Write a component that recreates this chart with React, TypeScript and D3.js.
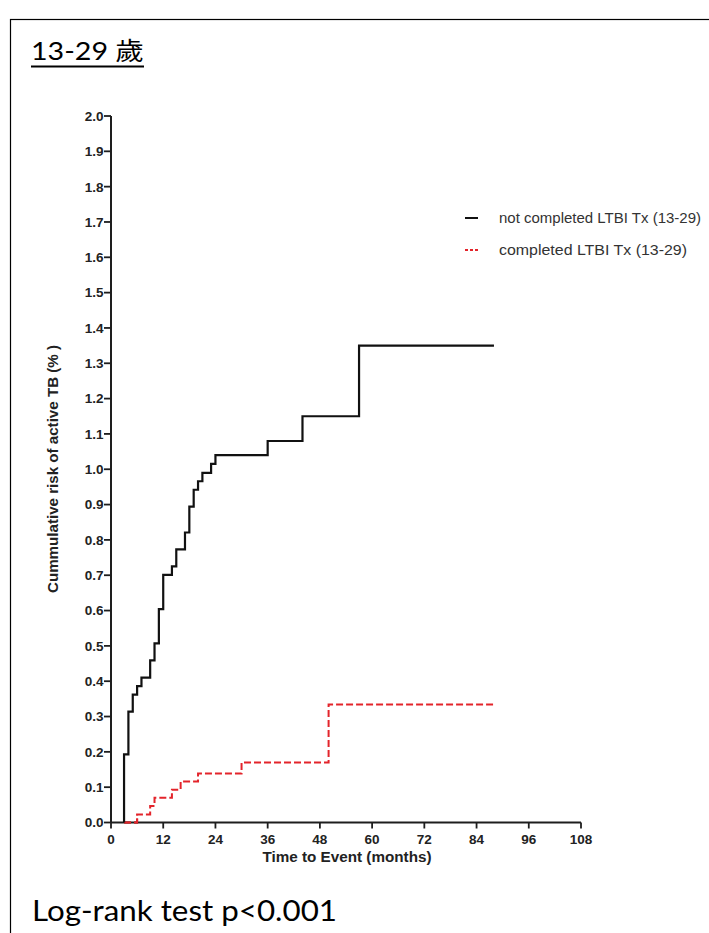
import React from "react";
import * as d3 from "d3";

const titleText = "13-29 歲";
const footerText = "Log-rank test p<0.001";
const yAxisLabel = "Cummulative risk of active TB (% )";
const xAxisLabel = "Time to Event (months)";

const seriesNames = ["not completed LTBI Tx (13-29)", "completed LTBI Tx (13-29)"];

// not completed: event times (months) and cumulative risk (%)
const notCompletedTimes = [3, 3, 4, 5, 6, 7, 9, 10, 11, 12, 14, 15, 17, 18, 19, 20, 21, 23, 24, 36, 44, 57, 88];
const notCompletedRisk = [0, 0.193, 0.314, 0.362, 0.386, 0.41, 0.459, 0.507, 0.604, 0.701, 0.725, 0.773, 0.821, 0.894, 0.942, 0.966, 0.99, 1.015, 1.04, 1.08, 1.15, 1.35, 1.35];

// completed
const completedTimes = [3, 6, 9, 10, 14, 16, 20, 30, 50, 88];
const completedRisk = [0, 0.023, 0.047, 0.07, 0.093, 0.116, 0.139, 0.17, 0.334, 0.334];

const xTicks = [0, 12, 24, 36, 48, 60, 72, 84, 96, 108];
const yTicks = d3.range(0, 21).map((i) => i / 10);

export default function App() {
  const x = d3.scaleLinear().domain([0, 108]).range([111, 581]);
  const y = d3.scaleLinear().domain([0, 2]).range([822.5, 116]);

  const line = d3
    .line<[number, number]>()
    .x((d) => x(d[0]))
    .y((d) => y(d[1]))
    .curve(d3.curveStepAfter);

  const blackPts: [number, number][] = notCompletedTimes.map((t, i) => [t, notCompletedRisk[i]]);
  const redPts: [number, number][] = completedTimes.map((t, i) => [t, completedRisk[i]]);

  const axisColor = "#1e1e1e";
  const red = "#e3242b";
  const tickFont = "'Liberation Sans', Arial, sans-serif";

  return (
    <svg
      width={709}
      height={933}
      style={{ position: "absolute", left: 0, top: 0, background: "#fff" }}
    >
      <rect x={0} y={0} width={709} height={933} fill="#fff" />
      {/* frame */}
      <rect x={10.5} y={19.5} width={720} height={940} fill="none" stroke="#000" strokeWidth={1.2} />

      {/* title */}
      <text
        x={31}
        y={59.5}
        fontFamily="Lato, 'Noto Sans CJK TC', sans-serif"
        fontSize={25}
        fill="#000"
        textLength={113}
        lengthAdjust="spacingAndGlyphs"
      >
        {titleText}
      </text>
      <line x1={31} x2={144} y1={66.5} y2={66.5} stroke="#000" strokeWidth={1.8} />

      {/* curves */}
      <path d={line(redPts) || ""} fill="none" stroke={red} strokeWidth={2} strokeDasharray="7,3" />

      {/* axes */}
      <g>
        <line x1={x(0)} x2={x(0)} y1={y(0)} y2={y(2)} stroke={axisColor} strokeWidth={2} />
        <line x1={x(0)} x2={x(108)} y1={y(0)} y2={y(0)} stroke={axisColor} strokeWidth={2} />
        {yTicks.map((t) => (
          <g key={"y" + t}>
            <line x1={x(0) - 7} x2={x(0)} y1={y(t)} y2={y(t)} stroke={axisColor} strokeWidth={1.8} />
            <text
              x={x(0) - 7.5}
              y={y(t)}
              dy="0.36em"
              textAnchor="end"
              fontFamily={tickFont}
              fontWeight="bold"
              fontSize={13.5}
              fill="#222"
            >
              {d3.format(".1f")(t)}
            </text>
          </g>
        ))}
        {xTicks.map((t) => (
          <g key={"x" + t}>
            <line x1={x(t)} x2={x(t)} y1={y(0)} y2={y(0) + 6} stroke={axisColor} strokeWidth={1.8} />
            <text
              x={x(t)}
              y={843.5}
              textAnchor="middle"
              fontFamily={tickFont}
              fontWeight="bold"
              fontSize={13.5}
              fill="#222"
            >
              {t}
            </text>
          </g>
        ))}
      </g>

      {/* red on top of axis at zero segment */}
      <path d={line(redPts.slice(0, 2)) || ""} fill="none" stroke={red} strokeWidth={2} strokeDasharray="7,3" />
      <path d={line(blackPts) || ""} fill="none" stroke="#111" strokeWidth={2.2} />

      {/* axis labels */}
      <text
        transform={`translate(58, 469) rotate(-90)`}
        textAnchor="middle"
        fontFamily={tickFont}
        fontWeight="bold"
        fontSize={14}
        fill="#222"
        textLength={248}
        lengthAdjust="spacingAndGlyphs"
      >
        {yAxisLabel}
      </text>
      <text
        x={347}
        y={862}
        textAnchor="middle"
        fontFamily={tickFont}
        fontWeight="bold"
        fontSize={14.5}
        fill="#222"
        textLength={169}
        lengthAdjust="spacingAndGlyphs"
      >
        {xAxisLabel}
      </text>

      {/* legend */}
      <line x1={465} x2={478} y1={218} y2={218} stroke="#111" strokeWidth={2} />
      <text x={499} y={222.5} fontFamily={tickFont} fontSize={14.5} fill="#333" textLength={202} lengthAdjust="spacingAndGlyphs">
        {seriesNames[0]}
      </text>
      <line x1={465} x2={478} y1={250} y2={250} stroke={red} strokeWidth={2} strokeDasharray="3,2" />
      <text x={499} y={254.5} fontFamily={tickFont} fontSize={14.5} fill="#333" textLength={188} lengthAdjust="spacingAndGlyphs">
        {seriesNames[1]}
      </text>

      {/* footer */}
      <text
        x={32}
        y={921}
        fontFamily="Lato, 'Noto Sans', sans-serif"
        fontSize={29}
        fill="#000"
        textLength={305}
        lengthAdjust="spacingAndGlyphs"
      >
        {footerText}
      </text>
    </svg>
  );
}
